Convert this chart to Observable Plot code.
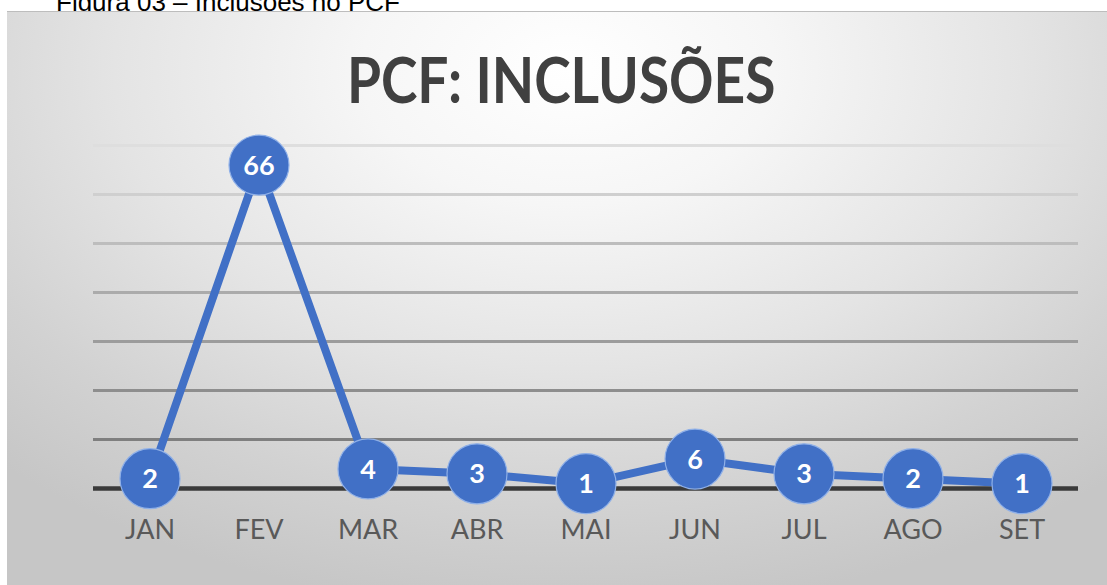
<!DOCTYPE html>
<html>
<head>
<meta charset="utf-8">
<script src="https://cdn.jsdelivr.net/npm/d3@7"></script>
<script src="https://cdn.jsdelivr.net/npm/@observablehq/plot@0.6"></script>
<style>
  html, body { margin: 0; padding: 0; background: #ffffff; width: 1107px; height: 585px; overflow: hidden; position: relative; }
  #caption { position: absolute; left: 56px; top: -11.5px; font-family: "Liberation Sans", Arial, sans-serif; font-size: 26px; line-height: 26px; color: #000; white-space: nowrap; }
  #box { position: absolute; left: 7px; top: 11px; width: 1100px; height: 574px; overflow: hidden;
         background: radial-gradient(ellipse 75% 95% at 51% 10%, #ffffff 0%, #f6f6f6 25%, #e4e4e4 55%, #d2d2d2 80%, #c6c6c6 100%);
         border-top: 1px solid #bdbdbd; box-sizing: border-box; }
  #title { position: absolute; left: 0; top: 0; width: 1100px; height: 109px; text-align: center; }
  #title span { display: inline-block; font-family: Lato, "Open Sans", sans-serif; font-weight: 700; font-size: 64px; line-height: 64px; color: #404040; transform: scaleX(0.86); transform-origin: 50% 50%; margin-top: 35px; margin-left: 8px; }
  #chart { position: absolute; left: 0; top: 109px; }
</style>
</head>
<body>
<div id="caption">Figura 03 – Inclusões no PCF</div>
<div id="box">
  <div id="title"><span>PCF: INCLUSÕES</span></div>
  <div id="chart"></div>
</div>
<script>
const months = ["JAN", "FEV", "MAR", "ABR", "MAI", "JUN", "JUL", "AGO", "SET"];
const values = [2, 66, 4, 3, 1, 6, 3, 2, 1];
const gridValues = [10, 20, 30, 40, 50, 60, 70];
const gridColors = ["#7f7f7f", "#8e8e8e", "#9c9c9c", "#ababab", "#bdbdbd", "#cfcfcf", "#dedede"];

const data = months.map((m, i) => ({month: m, value: values[i]}));
const grid = gridValues.map((v, i) => ({value: v, color: gridColors[i]}));

const blue = "#4170c6";

const chart = Plot.plot({
  width: 1100,
  height: 465,
  marginLeft: 86,
  marginRight: 29,
  marginTop: 24,
  marginBottom: 98,
  style: {background: "transparent", overflow: "visible"},
  x: {type: "band", domain: months, padding: 0, label: null},
  y: {domain: [0, 70], axis: null},
  marks: [
    Plot.ruleY(grid, {y: "value", stroke: "color", strokeWidth: 3}),
    Plot.ruleY([0], {stroke: "#3a3a3a", strokeWidth: 4.5}),
    Plot.axisX({tickSize: 0, tickPadding: 31, fontSize: 27, fill: "#595959", fontFamily: "Lato, 'Open Sans', sans-serif", label: null}),
    Plot.line(data, {x: "month", y: "value", stroke: blue, strokeWidth: 8, strokeLinejoin: "round"}),
    Plot.dot(data, {x: "month", y: "value", r: 30, fill: blue, stroke: "#8fb0e8", strokeWidth: 1.2}),
    Plot.text(data, {x: "month", y: "value", text: d => String(d.value), fill: "#ffffff", fontSize: 27, fontWeight: 700, fontFamily: "Lato, 'Open Sans', sans-serif", dy: 1})
  ]
});
document.getElementById("chart").appendChild(chart);
</script>
</body>
</html>
